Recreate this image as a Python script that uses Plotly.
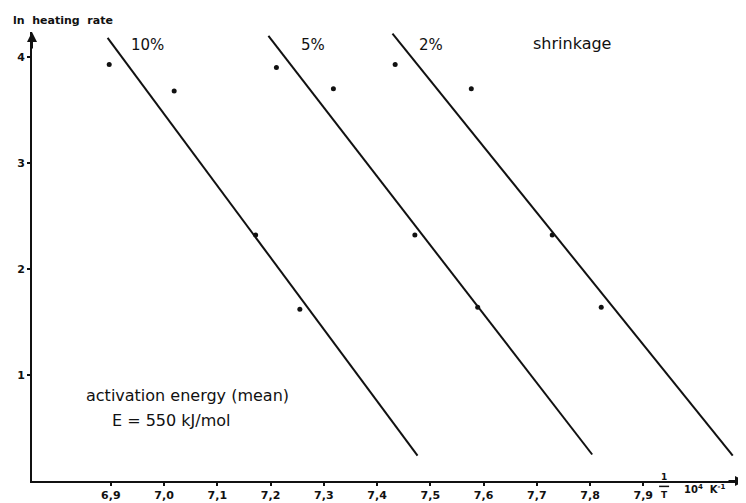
import plotly.graph_objects as go

# ---- data ----
inv_T_10 = [6.897, 7.019, 7.172, 7.255]
ln_rate_10 = [3.93, 3.68, 2.32, 1.62]
inv_T_5 = [7.211, 7.318, 7.471, 7.589]
ln_rate_5 = [3.90, 3.70, 2.32, 1.64]
inv_T_2 = [7.434, 7.577, 7.729, 7.821]
ln_rate_2 = [3.93, 3.70, 2.32, 1.64]

# fitted regression lines (end points)
fit_x_10 = [6.894, 7.476]
fit_y_10 = [4.18, 0.24]
fit_x_5 = [7.196, 7.804]
fit_y_5 = [4.20, 0.25]
fit_x_2 = [7.429, 8.068]
fit_y_2 = [4.22, 0.24]

series_labels = ["10%", "5%", "2%"]

x_tickvals = [6.9, 7.0, 7.1, 7.2, 7.3, 7.4, 7.5, 7.6, 7.7, 7.8, 7.9]
x_ticktext = ["6,9", "7,0", "7,1", "7,2", "7,3", "7,4", "7,5", "7,6", "7,7", "7,8", "7,9"]
y_tickvals = [1, 2, 3, 4]
y_ticktext = ["1", "2", "3", "4"]

X_RANGE = [6.752, 8.091]
Y_RANGE = [0, 4.236]

FONT = "DejaVu Sans"
INK = "#111111"

fig = go.Figure()

for fx, fy in [(fit_x_10, fit_y_10), (fit_x_5, fit_y_5), (fit_x_2, fit_y_2)]:
    fig.add_trace(go.Scatter(x=fx, y=fy, mode="lines",
                             line=dict(color=INK, width=2), showlegend=False,
                             hoverinfo="skip"))

for px, py, name in [(inv_T_10, ln_rate_10, "10%"), (inv_T_5, ln_rate_5, "5%"),
                     (inv_T_2, ln_rate_2, "2%")]:
    fig.add_trace(go.Scatter(x=px, y=py, mode="markers", name=name,
                             marker=dict(color=INK, size=5), showlegend=False))

# series labels
label_pos = [(6.969, 4.11), (7.279, 4.11), (7.502, 4.11)]
for (lx, ly), txt in zip(label_pos, series_labels):
    fig.add_annotation(x=lx, y=ly, text=txt, showarrow=False,
                       font=dict(family=FONT, size=15, color=INK))
fig.add_annotation(x=7.766, y=4.13, text="shrinkage", showarrow=False,
                   font=dict(family=FONT, size=16, color=INK))

fig.add_annotation(x=6.849, y=0.806, text="activation energy (mean)", showarrow=False,
                   xanchor="left", font=dict(family=FONT, size=16, color=INK))
fig.add_annotation(x=6.898, y=0.572, text="E = 550 kJ/mol", showarrow=False,
                   xanchor="left", font=dict(family=FONT, size=16, color=INK))

# axis title (top-left)
fig.add_annotation(xref="paper", yref="paper", x=-0.029, y=1.0265,
                   text="<b>ln  heating  rate</b>", showarrow=False,
                   xanchor="left", yanchor="middle",
                   font=dict(family=FONT, size=11, color=INK))

# x-axis unit: 1/T 10^4 K^-1
fx_frac = (664 - 31) / 714
fig.add_annotation(xref="paper", yref="paper", x=fx_frac, y=-0.007,
                   text="<b>1</b>", showarrow=False, xanchor="center", yanchor="bottom",
                   font=dict(family=FONT, size=9, color=INK))
fig.add_annotation(xref="paper", yref="paper", x=fx_frac, y=-0.015,
                   text="<b>T</b>", showarrow=False, xanchor="center", yanchor="top",
                   font=dict(family=FONT, size=9, color=INK))
fig.add_shape(type="line", xref="paper", yref="paper",
              x0=(659 - 31) / 714, x1=(669 - 31) / 714, y0=-0.012, y1=-0.012,
              line=dict(color=INK, width=1.5))
fig.add_annotation(xref="paper", yref="paper", x=(682 - 31) / 714, y=-0.018,
                   text="<b>10<sup>4</sup>  K<sup>-1</sup></b>", showarrow=False,
                   xanchor="left", yanchor="middle",
                   font=dict(family=FONT, size=10, color=INK))

# axis arrows
fig.add_annotation(xref="paper", yref="paper", x=0, y=1, ax=0, ay=18,
                   showarrow=True, arrowhead=2, arrowsize=1, arrowwidth=2,
                   arrowcolor=INK, text="")
fig.add_annotation(xref="paper", yref="paper", x=1, y=0, ax=-18, ay=0,
                   showarrow=True, arrowhead=2, arrowsize=1, arrowwidth=2,
                   arrowcolor=INK, text="")

fig.update_xaxes(range=X_RANGE, tickvals=x_tickvals, ticktext=x_ticktext,
                 showgrid=False, zeroline=False, showline=True, linecolor=INK,
                 linewidth=2, ticks="outside", ticklen=3, tickwidth=2, tickcolor=INK,
                 tickfont=dict(family=FONT, size=11, color=INK, weight="bold"))
fig.update_yaxes(range=Y_RANGE, tickvals=y_tickvals, ticktext=y_ticktext,
                 showgrid=False, zeroline=False, showline=True, linecolor=INK,
                 linewidth=2, ticks="outside", ticklen=3, tickwidth=2, tickcolor=INK,
                 tickfont=dict(family=FONT, size=11, color=INK, weight="bold"))

# the page places the figure 8 px in from the top-left corner; margins compensate
fig.update_layout(width=746, height=503,
                  margin=dict(l=23, r=9, t=24, b=27),
                  paper_bgcolor="white", plot_bgcolor="white",
                  showlegend=False)

fig.write_html("out.html")
